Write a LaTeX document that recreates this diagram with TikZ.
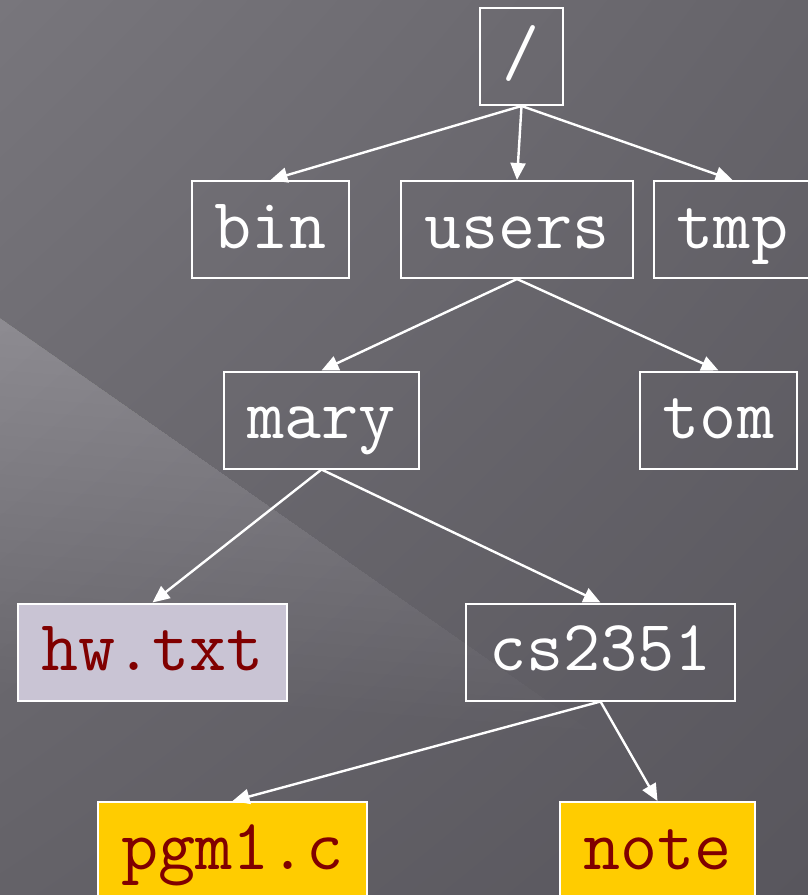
\documentclass[tikz,border=0pt]{standalone}
\usepackage{fontspec}
\usepackage{xcolor}
\usepackage{tikz}
\usetikzlibrary{arrows.meta, positioning, shadings}
\definecolor{clrBgUL}{RGB}{120,118,124}
\definecolor{clrBgUR}{RGB}{102,100,106}
\definecolor{clrBgLL}{RGB}{100,98,104}
\definecolor{clrBgLR}{RGB}{88,86,93}
\definecolor{clrText}{RGB}{128,0,0}
\definecolor{clrTxtFile}{RGB}{201,196,212}
\definecolor{clrSrcFile}{RGB}{255,204,0}

\begin{document}
\begin{tikzpicture}[
  x=1pt, y=-1pt,
  entry/.style={rectangle, draw=white, line width=2pt,
                font=\ttfamily\fontsize{72}{72}\selectfont,
                minimum height=97pt, inner xsep=23pt,
                text height=37pt, text depth=0pt},
  dirbox/.style={entry, text=white},
  txtbox/.style={entry, fill=clrTxtFile, text=clrText},
  srcbox/.style={entry, fill=clrSrcFile, text=clrText},
  arr/.style={-{Triangle[length=17pt,width=15pt]}, line width=2.4pt, white}
]

\useasboundingbox (0,0) rectangle (808,895);
\clip (0,0) rectangle (808,895);

% slide background with the light diagonal band
\shade[upper left=clrBgUL, upper right=clrBgUR,
       lower left=clrBgLL, lower right=clrBgLR] (0,0) rectangle (808,895);
\foreach \k in {1,...,28}
  \fill[white, fill opacity=0.011]
    (0,318) -- ({21*\k},{318+0.7*21*\k}) -- (0,{318+13*\k}) -- cycle;

% directory tree
\node[dirbox] (root)  at (521.5,56.5) {/};
\node[dirbox] (bin)   at (270.5,229.5) {bin};
\node[dirbox] (users) at (517,229.5)   {users};
\node[dirbox] (tmp)   at (732.5,229.5) {tmp};
\node[dirbox] (mary)  at (321.5,420)   {mary};
\node[dirbox] (tom)   at (718.5,420)   {tom};
\node[txtbox] (hw)    at (152.5,652)   {hw.txt};
\node[dirbox] (cs)    at (600.5,652)   {cs2351};
\node[srcbox] (pgm)   at (232.5,850.5) {pgm1.c};
\node[srcbox] (note)  at (657.5,850.5) {note};

\draw[arr] (root.south)  -- (bin.north);
\draw[arr] (root.south)  -- (users.north);
\draw[arr] (root.south)  -- (tmp.north);
\draw[arr] (users.south) -- (mary.north);
\draw[arr] (users.south) -- (tom.north);
\draw[arr] (mary.south)  -- (hw.north);
\draw[arr] (mary.south)  -- (cs.north);
\draw[arr] (cs.south)    -- (pgm.north);
\draw[arr] (cs.south)    -- (note.north);

\end{tikzpicture}
\end{document}
